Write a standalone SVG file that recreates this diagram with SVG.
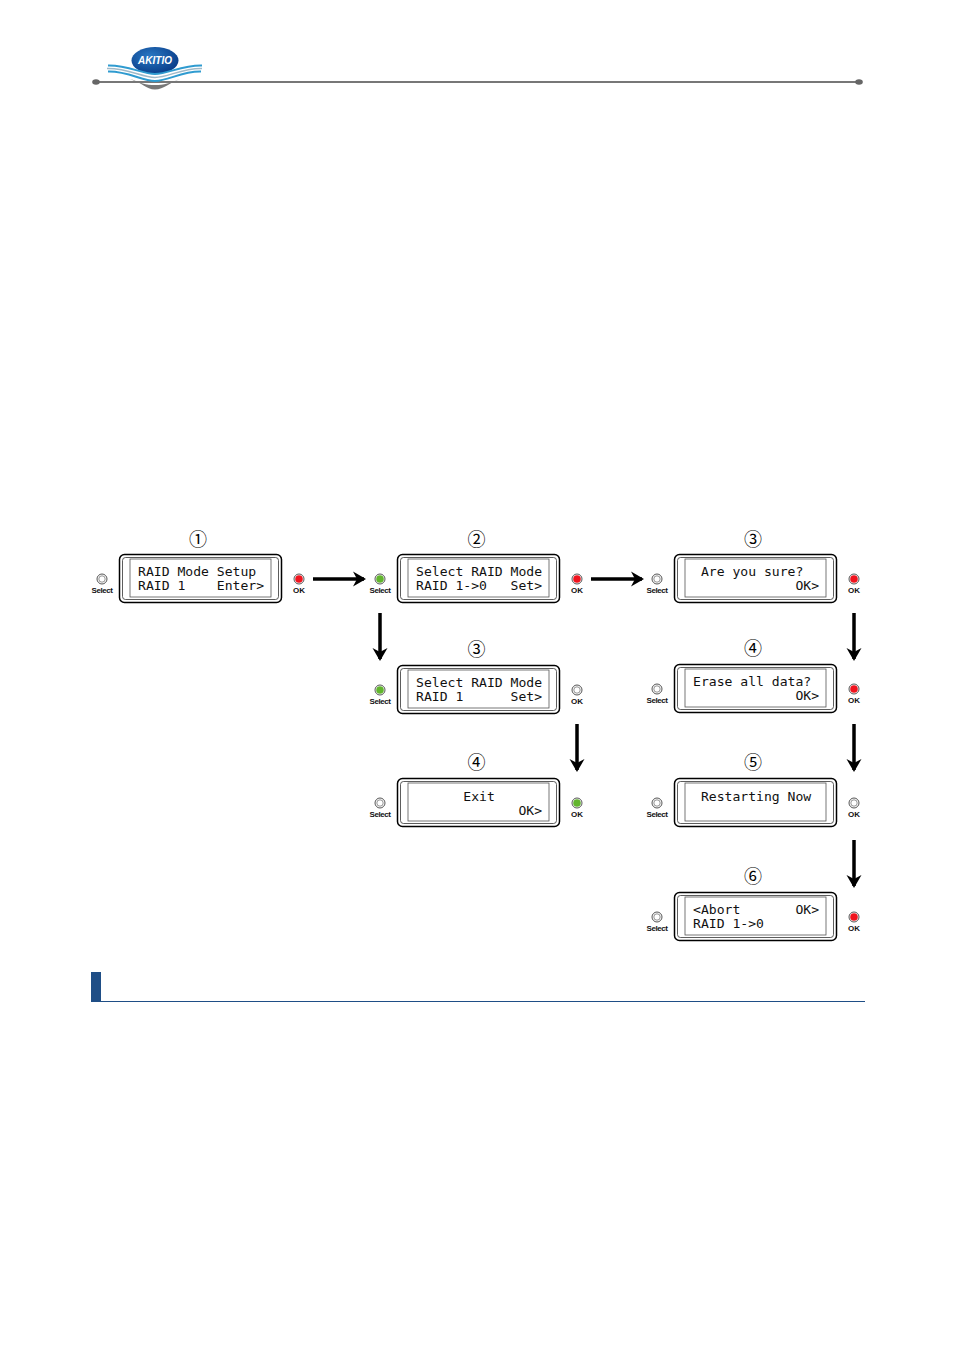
<svg xmlns="http://www.w3.org/2000/svg" width="955" height="1350" viewBox="0 0 955 1350">
<style>
.o{fill:#fff;stroke:#000;stroke-width:1.5}
.m{fill:none;stroke:#333;stroke-width:.8}
.i{fill:#fff;stroke:#555;stroke-width:.8}
.t{font-family:"DejaVu Sans Mono",monospace;font-size:13.1px;fill:#111;white-space:pre}
.n{font-family:"Noto Sans CJK JP","DejaVu Sans",sans-serif;font-size:18px;fill:#000;text-anchor:middle}
.l{font-family:"Liberation Sans",Arial,sans-serif;font-size:8px;font-weight:bold;fill:#111;text-anchor:middle}
.s{letter-spacing:-.45px}
.r{fill:#fff;stroke:#777;stroke-width:.8}
.off{fill:#fff;stroke:#555;stroke-width:1}
.red{fill:#f0141e;stroke:none}
.grn{fill:#62b52e;stroke:none}
.a{fill:none;stroke:#000;stroke-width:3.5;marker-end:url(#h)}
.wb{fill:none;stroke:#2f9bd0;stroke-width:2}
.wg{fill:none;stroke:#9fb9c8;stroke-width:1.4}
</style>
<defs>
<marker id="h" markerUnits="userSpaceOnUse" markerWidth="16" markerHeight="18" refX="12" refY="9" orient="auto">
<path d="M1 1.500 L14 9 L1 16.500 L5 9 Z" fill="#000"/>
</marker>
<radialGradient id="lg" cx=".4" cy=".35" r=".7"><stop offset="0" stop-color="#2a79c4"/><stop offset="1" stop-color="#083a86"/></radialGradient>
</defs>

<g id="header">
<path d="M96 82 H859" stroke="#777" stroke-width="1.8" fill="none"/>
<ellipse cx="96" cy="82" rx="3.800" ry="2.800" fill="#666"/>
<ellipse cx="859" cy="82" rx="3.800" ry="2.800" fill="#666"/>
<path d="M130 79 C142 82 146 89.500 155 89.500 C164 89.500 170 82 180 79 C170 83 164 85 155 85 C146 85 140 83 130 79Z" fill="#777"/>
<ellipse cx="155" cy="60.500" rx="23.500" ry="13.500" fill="url(#lg)"/>
<text x="155" y="64" font-family="Liberation Sans,Arial,sans-serif" font-size="10" font-weight="bold" font-style="italic" fill="#fff" text-anchor="middle">AKITIO</text>
<path class="wb" d="M108 65.500 C128 65 142 74 155 74 C168 74 182 65 202 65.500"/>
<path class="wg" d="M107 68.500 C128 68 142 77.500 155 77.500 C168 77.500 182 68 202 68.500"/>
<path class="wb" d="M108 71.500 C128 71 142 81 155 81 C168 81 182 71 201 71.500"/>
</g>

<g id="connectors">
<path class="a" d="M313 579 H364"/>
<path class="a" d="M591 579 H642"/>
<path class="a" d="M380 613 V659"/>
<path class="a" d="M577 724 V770"/>
<path class="a" d="M854 613 V659"/>
<path class="a" d="M854 724 V770"/>
<path class="a" d="M854 840 V886"/>
</g>

<g id="step1">
<text class="n" x="198" y="546">①</text>
<rect class="o" x="119.500" y="554.500" width="162" height="48" rx="5"/><rect class="m" x="122.500" y="557.500" width="156" height="42" rx="3"/><rect class="i" x="130" y="559" width="141" height="38"/>
<text class="t" x="138" y="576">RAID Mode Setup</text><text class="t" x="138" y="590">RAID 1    Enter&gt;</text>
<circle class="off" cx="102" cy="579" r="5"/><circle class="r" cx="102" cy="579" r="3.200"/><text class="l s" x="102" y="593">Select</text>
<circle class="off" cx="299" cy="579" r="5"/><circle class="red" cx="299" cy="579" r="3.800"/><text class="l" x="299" y="593">OK</text>
</g>

<g id="step2">
<text class="n" x="476.500" y="546">②</text>
<rect class="o" x="397.500" y="554.500" width="162" height="48" rx="5"/><rect class="m" x="400.500" y="557.500" width="156" height="42" rx="3"/><rect class="i" x="408" y="559" width="141" height="38"/>
<text class="t" x="416" y="576">Select RAID Mode</text><text class="t" x="416" y="590">RAID 1-&gt;0   Set&gt;</text>
<circle class="off" cx="380" cy="579" r="5"/><circle class="grn" cx="380" cy="579" r="3.800"/><text class="l s" x="380" y="593">Select</text>
<circle class="off" cx="577" cy="579" r="5"/><circle class="red" cx="577" cy="579" r="3.800"/><text class="l" x="577" y="593">OK</text>
</g>

<g id="step3a">
<text class="n" x="753" y="546">③</text>
<rect class="o" x="674.500" y="554.500" width="162" height="48" rx="5"/><rect class="m" x="677.500" y="557.500" width="156" height="42" rx="3"/><rect class="i" x="685" y="559" width="141" height="38"/>
<text class="t" x="693" y="576"> Are you sure?</text><text class="t" x="693" y="590">             OK&gt;</text>
<circle class="off" cx="657" cy="579" r="5"/><circle class="r" cx="657" cy="579" r="3.200"/><text class="l s" x="657" y="593">Select</text>
<circle class="off" cx="854" cy="579" r="5"/><circle class="red" cx="854" cy="579" r="3.800"/><text class="l" x="854" y="593">OK</text>
</g>

<g id="step3b">
<text class="n" x="476.500" y="656">③</text>
<rect class="o" x="397.500" y="665.500" width="162" height="48" rx="5"/><rect class="m" x="400.500" y="668.500" width="156" height="42" rx="3"/><rect class="i" x="408" y="670" width="141" height="38"/>
<text class="t" x="416" y="687">Select RAID Mode</text><text class="t" x="416" y="701">RAID 1      Set&gt;</text>
<circle class="off" cx="380" cy="690" r="5"/><circle class="grn" cx="380" cy="690" r="3.800"/><text class="l s" x="380" y="704">Select</text>
<circle class="off" cx="577" cy="690" r="5"/><circle class="r" cx="577" cy="690" r="3.200"/><text class="l" x="577" y="704">OK</text>
</g>

<g id="step4a">
<text class="n" x="753" y="655">④</text>
<rect class="o" x="674.500" y="664.500" width="162" height="48" rx="5"/><rect class="m" x="677.500" y="667.500" width="156" height="42" rx="3"/><rect class="i" x="685" y="669" width="141" height="38"/>
<text class="t" x="693" y="686">Erase all data?</text><text class="t" x="693" y="700">             OK&gt;</text>
<circle class="off" cx="657" cy="689" r="5"/><circle class="r" cx="657" cy="689" r="3.200"/><text class="l s" x="657" y="703">Select</text>
<circle class="off" cx="854" cy="689" r="5"/><circle class="red" cx="854" cy="689" r="3.800"/><text class="l" x="854" y="703">OK</text>
</g>

<g id="step4b">
<text class="n" x="476.500" y="769">④</text>
<rect class="o" x="397.500" y="778.500" width="162" height="48" rx="5"/><rect class="m" x="400.500" y="781.500" width="156" height="42" rx="3"/><rect class="i" x="408" y="783" width="141" height="38"/>
<text class="t" x="416" y="801">      Exit</text><text class="t" x="416" y="815">             OK&gt;</text>
<circle class="off" cx="380" cy="803" r="5"/><circle class="r" cx="380" cy="803" r="3.200"/><text class="l s" x="380" y="817">Select</text>
<circle class="off" cx="577" cy="803" r="5"/><circle class="grn" cx="577" cy="803" r="3.800"/><text class="l" x="577" y="817">OK</text>
</g>

<g id="step5">
<text class="n" x="753" y="769">⑤</text>
<rect class="o" x="674.500" y="778.500" width="162" height="48" rx="5"/><rect class="m" x="677.500" y="781.500" width="156" height="42" rx="3"/><rect class="i" x="685" y="783" width="141" height="38"/>
<text class="t" x="693" y="801"> Restarting Now</text>
<circle class="off" cx="657" cy="803" r="5"/><circle class="r" cx="657" cy="803" r="3.200"/><text class="l s" x="657" y="817">Select</text>
<circle class="off" cx="854" cy="803" r="5"/><circle class="r" cx="854" cy="803" r="3.200"/><text class="l" x="854" y="817">OK</text>
</g>

<g id="step6">
<text class="n" x="753" y="883">⑥</text>
<rect class="o" x="674.500" y="892.500" width="162" height="48" rx="5"/><rect class="m" x="677.500" y="895.500" width="156" height="42" rx="3"/><rect class="i" x="685" y="897" width="141" height="38"/>
<text class="t" x="693" y="914">&lt;Abort       OK&gt;</text><text class="t" x="693" y="928">RAID 1-&gt;0</text>
<circle class="off" cx="657" cy="917" r="5"/><circle class="r" cx="657" cy="917" r="3.200"/><text class="l s" x="657" y="931">Select</text>
<circle class="off" cx="854" cy="917" r="5"/><circle class="red" cx="854" cy="917" r="3.800"/><text class="l" x="854" y="931">OK</text>
</g>

<g id="section-bar">
<rect x="91" y="972" width="10" height="30" fill="#1f4e86"/>
<rect x="91" y="1001" width="774" height="1" fill="#1f4e86"/>
</g>
</svg>
